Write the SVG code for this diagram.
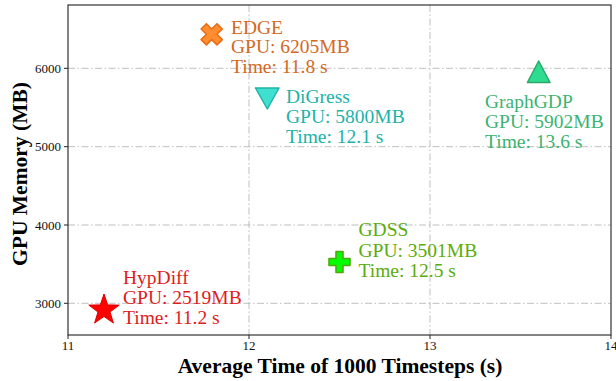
<svg xmlns="http://www.w3.org/2000/svg" width="616" height="381" viewBox="0 0 616 381">
<style>
.grid{stroke:#b8b8b8;stroke-width:0.9;stroke-dasharray:7,2.5,1.5,2.5;fill:none}
.tick{stroke:#222;stroke-width:1}
.tl{font-family:"Liberation Serif","Times New Roman",serif;font-size:13px;fill:#111}
.lab{font-family:"Liberation Serif","Times New Roman",serif;font-size:21.5px;font-weight:bold;fill:#000}
.ann{font-family:"Liberation Serif","Times New Roman",serif;font-size:19.5px}
</style>
<rect width="616" height="381" fill="#fff"/>
<g id="grid">
<line class="grid" x1="249" y1="5" x2="249" y2="335"/>
<line class="grid" x1="430" y1="5" x2="430" y2="335"/>
<line class="grid" x1="68" y1="303.3" x2="611" y2="303.3"/>
<line class="grid" x1="68" y1="225" x2="611" y2="225"/>
<line class="grid" x1="68" y1="146.7" x2="611" y2="146.7"/>
<line class="grid" x1="68" y1="68.3" x2="611" y2="68.3"/>
</g>
<g id="axes">
<rect x="68" y="5" width="543" height="330" fill="none" stroke="#333" stroke-width="1.2"/>
<line class="tick" x1="68" y1="335" x2="68" y2="339"/>
<line class="tick" x1="249" y1="335" x2="249" y2="339"/>
<line class="tick" x1="430" y1="335" x2="430" y2="339"/>
<line class="tick" x1="611" y1="335" x2="611" y2="339"/>
<line class="tick" x1="64" y1="303.3" x2="68" y2="303.3"/>
<line class="tick" x1="64" y1="225" x2="68" y2="225"/>
<line class="tick" x1="64" y1="146.7" x2="68" y2="146.7"/>
<line class="tick" x1="64" y1="68.3" x2="68" y2="68.3"/>
<text class="tl" x="68" y="350" text-anchor="middle">11</text>
<text class="tl" x="249" y="350" text-anchor="middle">12</text>
<text class="tl" x="430" y="350" text-anchor="middle">13</text>
<text class="tl" x="611" y="350" text-anchor="middle">14</text>
<text class="tl" x="61" y="307.8" text-anchor="end">3000</text>
<text class="tl" x="61" y="229.5" text-anchor="end">4000</text>
<text class="tl" x="61" y="151.2" text-anchor="end">5000</text>
<text class="tl" x="61" y="72.8" text-anchor="end">6000</text>
<text class="lab" x="340" y="373" text-anchor="middle">Average Time of 1000 Timesteps (s)</text>
<text class="lab" transform="translate(27,174) rotate(-90)" text-anchor="middle">GPU Memory (MB)</text>
</g>
<g id="hypdiff">
<polygon points="104,294 107.7,304.9 119.2,305.1 110,312 113.4,323 104,316.5 94.6,323 98,312 88.8,305.1 100.3,304.9" fill="#ff0000" stroke="#dd0000" stroke-width="1"/>
<text class="ann" fill="#dd1c1c" x="123" y="284">HypDiff</text>
<text class="ann" fill="#dd1c1c" x="123" y="304">GPU: 2519MB</text>
<text class="ann" fill="#dd1c1c" x="123" y="324">Time: 11.2 s</text>
</g>
<g id="edge">
<polygon transform="translate(211.7,34.3) scale(5.3)" points="0,-1 1,-2 2,-1 1,0 2,1 1,2 0,1 -1,2 -2,1 -1,0 -2,-1 -1,-2" fill="#ff8c2e" stroke="#e6701a" stroke-width="0.3" stroke-linejoin="round"/>
<text class="ann" fill="#d2691e" x="231" y="33.5">EDGE</text>
<text class="ann" fill="#d2691e" x="231" y="53.3">GPU: 6205MB</text>
<text class="ann" fill="#d2691e" x="231" y="73">Time: 11.8 s</text>
</g>
<g id="digress">
<polygon points="255.5,88 279,88 267.3,109" fill="#40e0d0" stroke="#20b2aa" stroke-width="1.5" stroke-linejoin="round"/>
<text class="ann" fill="#20b2aa" x="286" y="103.3">DiGress</text>
<text class="ann" fill="#20b2aa" x="286" y="123.3">GPU: 5800MB</text>
<text class="ann" fill="#20b2aa" x="286" y="143.3">Time: 12.1 s</text>
</g>
<g id="graphgdp">
<polygon points="538.7,61 550,82.5 527.4,82.5" fill="#2edc90" stroke="#2aa86a" stroke-width="1.5" stroke-linejoin="round"/>
<text class="ann" fill="#3cb371" x="485" y="108.3">GraphGDP</text>
<text class="ann" fill="#3cb371" x="485" y="128.3">GPU: 5902MB</text>
<text class="ann" fill="#3cb371" x="485" y="148.3">Time: 13.6 s</text>
</g>
<g id="gdss">
<polygon transform="translate(339.5,262) scale(10.5)" points="-0.333,-1 0.333,-1 0.333,-0.333 1,-0.333 1,0.333 0.333,0.333 0.333,1 -0.333,1 -0.333,0.333 -1,0.333 -1,-0.333 -0.333,-0.333" fill="#00ff00" stroke="#4fa80c" stroke-width="0.15" stroke-linejoin="round"/>
<text class="ann" fill="#5aac0c" x="358.5" y="236">GDSS</text>
<text class="ann" fill="#5aac0c" x="358.5" y="256.5">GPU: 3501MB</text>
<text class="ann" fill="#5aac0c" x="358.5" y="276.5">Time: 12.5 s</text>
</g>
</svg>
